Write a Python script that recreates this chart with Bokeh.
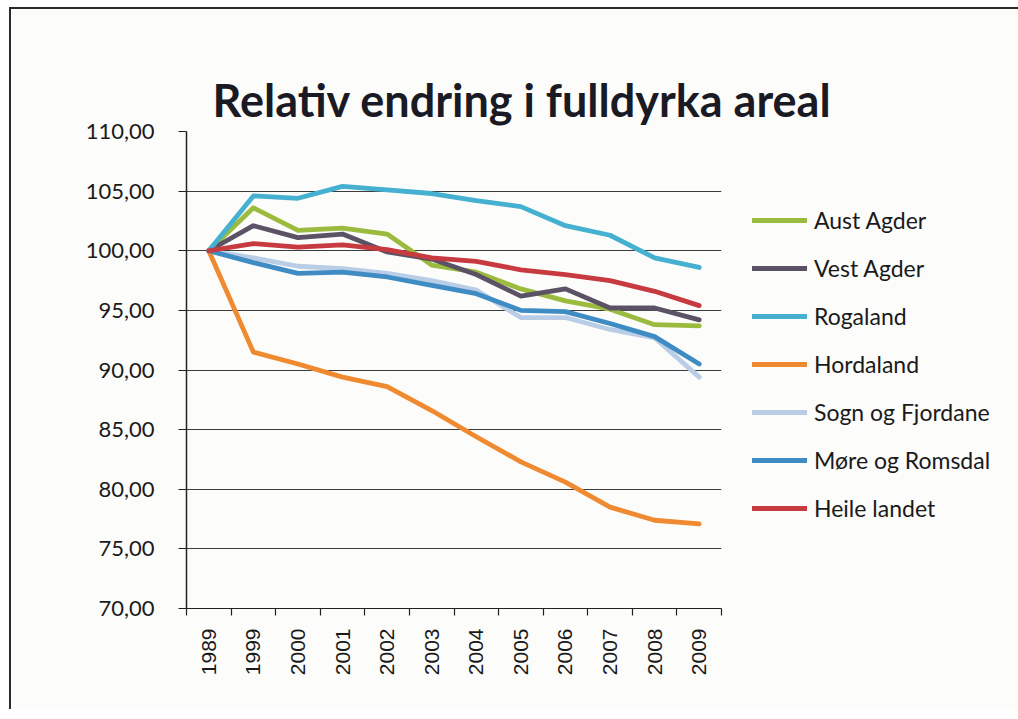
import math
from bokeh.plotting import figure
from bokeh.models import Legend, LegendItem, FixedTicker, Range1d, Title
from bokeh.embed import file_html
from bokeh.resources import INLINE

years = ["1989", "1999", "2000", "2001", "2002", "2003", "2004", "2005", "2006", "2007", "2008", "2009"]

aust_agder = [100.0, 103.6, 101.7, 101.9, 101.4, 98.8, 98.2, 96.8, 95.8, 95.1, 93.8, 93.7]
vest_agder = [100.0, 102.1, 101.1, 101.4, 99.9, 99.3, 98.0, 96.2, 96.8, 95.2, 95.2, 94.2]
rogaland = [100.0, 104.6, 104.4, 105.4, 105.1, 104.8, 104.2, 103.7, 102.1, 101.3, 99.4, 98.6]
hordaland = [100.0, 91.5, 90.5, 89.4, 88.6, 86.6, 84.4, 82.3, 80.6, 78.5, 77.4, 77.1]
sogn_og_fjordane = [100.0, 99.4, 98.7, 98.5, 98.1, 97.5, 96.7, 94.4, 94.4, 93.4, 92.7, 89.4]
more_og_romsdal = [100.0, 99.0, 98.1, 98.2, 97.8, 97.1, 96.4, 95.0, 94.9, 93.9, 92.8, 90.5]
heile_landet = [100.0, 100.6, 100.3, 100.5, 100.1, 99.4, 99.1, 98.4, 98.0, 97.5, 96.6, 95.4]

series_names = ["Aust Agder", "Vest Agder", "Rogaland", "Hordaland",
                "Sogn og Fjordane", "Møre og Romsdal", "Heile landet"]
series_values = [aust_agder, vest_agder, rogaland, hordaland,
                 sogn_og_fjordane, more_og_romsdal, heile_landet]
series_colors = ["#9bbb3f", "#5c5266", "#45b0d0", "#f08a30", "#b9cde6", "#3f8bc3", "#c73b40"]

y_ticks = [70, 75, 80, 85, 90, 95, 100, 105, 110]

title_text = "Relativ endring i fulldyrka areal"

n = len(years)
xs = [i + 0.5 for i in range(n)]

BG = "#fcfcfa"
p = figure(frame_width=535, frame_height=477, output_backend="svg", toolbar_location=None,
           x_range=Range1d(0, n), y_range=Range1d(y_ticks[0], y_ticks[-1]),
           min_border_left=175, min_border_right=290, min_border_top=122, min_border_bottom=101,
           background_fill_color=BG, border_fill_color=BG,
           styles={"border-top": "2px solid #2a2a2a", "border-left": "2px solid #2a2a2a",
                   "margin-top": "7px", "margin-left": "9px"})
p.outline_line_color = None
p.xgrid.visible = False
p.ygrid.grid_line_color = "#3c3c3c"
p.ygrid.grid_line_width = 1.2
p.ygrid.ticker = FixedTicker(ticks=y_ticks)

# the plot's own title is stacked outermost; an invisible spacer title sits
# between it and the frame to lift the real title up
p.title.text = title_text
p.title.align = "left"
p.title.offset = 26
p.title.standoff = 10
p.title.text_font = "Lato"
p.title.text_font_style = "bold"
p.title.text_font_size = "45px"
p.title.text_color = "#1a1a24"
spacer = Title(text=".", text_font_size="1px", text_alpha=0, standoff=38)
p.add_layout(spacer, "above")

# x axis
p.xaxis.ticker = FixedTicker(ticks=xs, minor_ticks=list(range(n + 1)))
p.xaxis.major_label_overrides = {x: y for x, y in zip(xs, years)}
p.xaxis.major_tick_out = 0
p.xaxis.major_tick_in = 0
p.xaxis.minor_tick_out = 7
p.xaxis.minor_tick_in = 0
p.xaxis.minor_tick_line_color = "#222222"
p.xaxis.minor_tick_line_width = 1.2
p.xaxis.axis_line_color = "#222222"
p.xaxis.axis_line_width = 1.2
p.xaxis.major_label_orientation = math.pi / 2
p.xaxis.major_label_standoff = 13
p.xaxis.major_label_text_font = "Liberation Sans"
p.xaxis.major_label_text_font_size = "21px"
p.xaxis.major_label_text_color = "#1a1a1a"

# y axis
p.yaxis.ticker = FixedTicker(ticks=y_ticks, minor_ticks=[])
p.yaxis.major_label_overrides = {t: f"{t:.2f}".replace(".", ",") for t in y_ticks}
p.yaxis.major_tick_out = 8
p.yaxis.major_tick_in = 0
p.yaxis.major_tick_line_color = "#222222"
p.yaxis.major_tick_line_width = 1.2
p.yaxis.minor_tick_line_color = None
p.yaxis.axis_line_color = "#222222"
p.yaxis.axis_line_width = 1.5
p.yaxis.major_label_standoff = 24
p.yaxis.major_label_text_font = "Lato"
p.yaxis.major_label_text_font_size = "22px"
p.yaxis.major_label_text_color = "#1a1a1a"

items = []
for name, vals, col in zip(series_names, series_values, series_colors):
    r = p.line(xs, vals, line_color=col, line_width=4.8, line_join="round", line_cap="round")
    items.append(LegendItem(label=name, renderers=[r]))

legend = Legend(items=items, location=(31, 86), orientation="vertical",
                glyph_width=55, glyph_height=24, label_height=24, spacing=20,
                label_standoff=7, padding=0, margin=0,
                border_line_color=None, background_fill_alpha=0,
                label_text_font="Lato", label_text_font_size="23px",
                label_text_color="#1a1a1a")
p.add_layout(legend, "right")

open("out.html", "w").write(file_html(p, INLINE))
